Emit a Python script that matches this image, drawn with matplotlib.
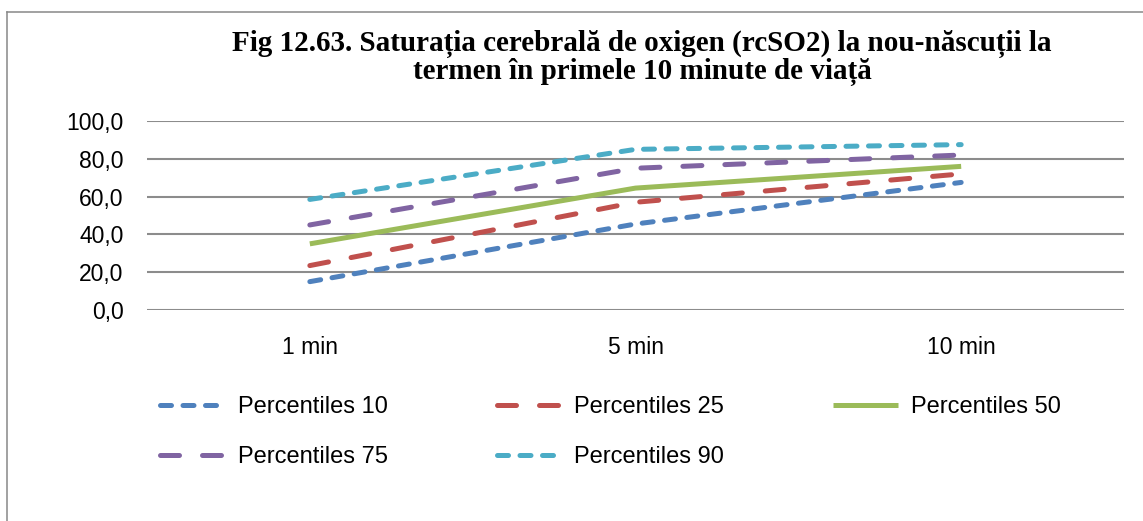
import matplotlib
matplotlib.use('Agg')
import matplotlib.pyplot as plt
from matplotlib.lines import Line2D

# Data
categories = ['1 min', '5 min', '10 min']
p10 = [15.0, 45.5, 67.5]
p25 = [23.5, 57.0, 72.0]
p50 = [35.0, 64.5, 76.0]
p75 = [45.0, 75.0, 82.0]
p90 = [58.5, 85.0, 87.5]
yticks = [0, 20, 40, 60, 80, 100]
ytick_labels = ['0,0', '20,0', '40,0', '60,0', '80,0', '100,0']

title = ('Fig 12.63. Saturația cerebrală de oxigen (rcSO2) la nou-născuții la\n'
         'termen în primele 10 minute de viață')

W, H = 1143, 521
fig = plt.figure(figsize=(W / 100, H / 100), dpi=100)
ax = fig.add_axes([147 / W, 1 - 310 / H, (1124 - 147) / W, (310 - 121) / H])

lw = 3.6
short_dash = (2.2, 2.3)
long_dash = (3.8, 4.6)

series = [
    ('Percentiles 10', p10, '#4F81BD', short_dash),
    ('Percentiles 25', p25, '#C0504D', long_dash),
    ('Percentiles 50', p50, '#9BBB59', None),
    ('Percentiles 75', p75, '#8064A2', long_dash),
    ('Percentiles 90', p90, '#4BACC6', short_dash),
]

x = list(range(len(categories)))
handles = {}
for name, vals, color, dash in series:
    if dash is None:
        line, = ax.plot(x, vals, color=color, lw=lw, solid_capstyle='butt', label=name, zorder=3)
    else:
        line, = ax.plot(x, vals, color=color, lw=lw, dashes=dash, dash_capstyle='round', label=name, zorder=3)
    handles[name] = line

ax.set_xlim(-0.5, 2.5)
ax.set_ylim(0, 100)
ax.set_yticks(yticks)
ax.set_yticklabels(ytick_labels)
ax.set_xticks(x)
ax.set_xticklabels(categories)
for s in ax.spines.values():
    s.set_visible(False)
ax.tick_params(length=0, labelsize=16.5, labelcolor='black')
ax.tick_params(axis='y', pad=17)
ax.tick_params(axis='x', pad=19)
for lab in ax.get_xticklabels() + ax.get_yticklabels():
    lab.set_family('Liberation Sans')
ax.yaxis.grid(True, color='#8c8c8c', lw=1.5)
ax.set_axisbelow(True)

# legend: matplotlib fills columns first, so reorder for row-major look
order = ['Percentiles 10', 'Percentiles 75', 'Percentiles 25', 'Percentiles 90', 'Percentiles 50']
fig.legend([handles[n] for n in order], order, loc='upper left',
           bbox_to_anchor=(160 / W, 1 - 396 / H), ncol=3, frameon=False,
           borderpad=0, borderaxespad=0, handlelength=2.75, handletextpad=0.55,
           columnspacing=4.6, labelspacing=1.2,
           prop={'family': 'Liberation Sans', 'size': 17})

fig.text(642 / W, 1 - 58 / H, title, ha='center', va='center', fontsize=21,
         fontweight='bold', family='Liberation Serif', linespacing=1.02)

# chart border (left and top edges visible)
fig.add_artist(Line2D([7 / W, 7 / W], [0, 1 - 12 / H], transform=fig.transFigure, color='#888888', lw=1.1))
fig.add_artist(Line2D([7 / W, 1], [1 - 12 / H, 1 - 12 / H], transform=fig.transFigure, color='#888888', lw=1.1))

fig.savefig('out.png', dpi=100)
